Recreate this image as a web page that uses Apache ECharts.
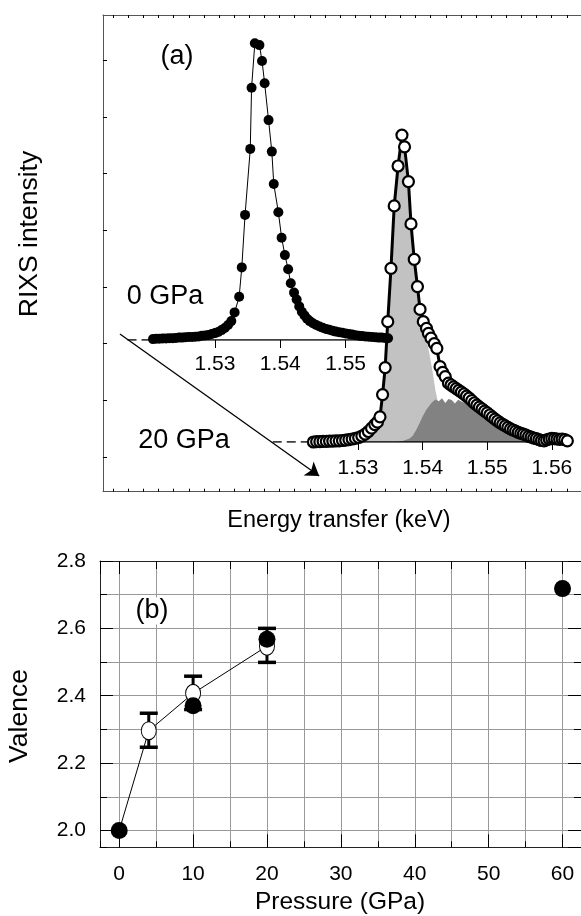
<!DOCTYPE html>
<html>
<head>
<meta charset="utf-8">
<script src="https://cdn.jsdelivr.net/npm/echarts@6/dist/echarts.min.js"></script>
<style>
html, body { margin: 0; padding: 0; background: #fff; }
#chart { width: 581px; height: 916px; }
</style>
</head>
<body>
<div id="chart"></div>
<script>
// ---- panel (a): RIXS spectra ----
// 0 GPa (filled dots)
var e0 = [1.5205,1.5210,1.5215,1.5220,1.5225,1.5230,1.5235,1.5240,1.5245,1.5250,1.5255,1.5260,1.5265,1.5270,1.5275,
  1.5280,1.5285,1.5290,1.5295,1.5300,1.5305,1.5310,1.5315,1.5320,1.5325,1.5330,1.5337,1.5341,1.5346,1.5354,1.5356,
  1.5361,1.5368,1.5372,1.5376,1.5382,1.5387,1.5390,1.5397,1.5402,1.5407,1.5412,1.5416,1.5421,1.5425,1.5429,1.5433,
  1.5437,1.5441,1.5445,1.5450,1.5455,1.5460,1.5465,1.5470,1.5475,1.5480,1.5485,1.5490,1.5495,1.5500,1.5505,1.5510,
  1.5515,1.5520,1.5525,1.5530,1.5535,1.5540,1.5545,1.5550,1.5555,1.5560,1.5565];
var i0 = [0.003,0.004,0.004,0.005,0.005,0.006,0.006,0.007,0.008,0.008,0.009,0.010,0.010,0.011,0.012,
  0.014,0.015,0.017,0.020,0.023,0.027,0.033,0.040,0.050,0.063,0.092,0.144,0.242,0.417,0.637,0.841,
  0.989,0.983,0.930,0.856,0.733,0.628,0.520,0.426,0.341,0.283,0.236,0.189,0.158,0.135,0.112,0.094,
  0.082,0.071,0.063,0.056,0.050,0.045,0.041,0.037,0.034,0.031,0.028,0.026,0.024,0.022,0.020,0.018,
  0.016,0.014,0.013,0.012,0.011,0.010,0.009,0.008,0.008,0.007,0.006];

// 20 GPa (open circles)
var e20 = [1.5231,1.5236,1.5241,1.5246,1.5251,1.5256,1.5261,1.5266,1.5271,1.5276,1.5281,1.5286,1.5291,1.5296,
  1.5301,1.5306,1.5311,1.5316,1.5321,1.5326,1.5330,1.5334,1.5338,1.5342,1.5346,1.5351,1.5356,1.5362,1.5368,
  1.5372,1.5378,1.5382,1.5387,1.5392,1.5396,1.5401,1.5406,1.5409,1.5413,1.5418,1.5422,1.5427,1.5431,1.5435,
  1.5440,1.5444,1.5448,1.5452,1.5456,1.5460,1.5464,1.5468,1.5472,1.5476,1.5480,1.5484,1.5488,1.5492,1.5496,
  1.5500,1.5504,1.5508,1.5512,1.5516,1.5520,1.5524,1.5528,1.5532,1.5536,1.5540,1.5544,1.5548,1.5552,1.5556,
  1.5560,1.5564,1.5568,1.5572,1.5576,1.5580,1.5584,1.5588,1.5592,1.5596,1.5600,1.5604,1.5608,1.5612,1.5616,
  1.5620,1.5624];
var i20 = [0.000,0.001,0.001,0.002,0.002,0.003,0.003,0.004,0.004,0.005,0.006,0.008,0.010,0.012,
  0.015,0.020,0.026,0.035,0.046,0.058,0.066,0.084,0.158,0.248,0.401,0.579,0.787,0.920,1.023,
  0.984,0.868,0.727,0.609,0.518,0.442,0.401,0.379,0.362,0.346,0.328,0.312,0.251,0.232,0.218,
  0.196,0.190,0.184,0.178,0.172,0.166,0.160,0.153,0.146,0.138,0.130,0.123,0.116,0.110,0.103,
  0.097,0.090,0.083,0.076,0.070,0.064,0.059,0.054,0.049,0.044,0.040,0.036,0.032,0.029,0.026,
  0.023,0.019,0.016,0.013,0.011,0.008,0.005,0.004,0.007,0.010,0.012,0.011,0.010,0.009,0.010,
  0.008,0.004];

// fitted components at 20 GPa
var eEu2 = [1.5300,1.5305,1.5310,1.5315,1.5320,1.5325,1.5330,1.5335,1.5340,1.5345,1.5350,1.5355,1.5360,1.5365,
  1.5370,1.5375,1.5380,1.5385,1.5390,1.5395,1.5400,1.5405,1.5410,1.5415,1.5420,1.5425,1.5430,1.5440,1.5450,
  1.5460,1.5480,1.5500,1.5530];
var iEu2 = [0.000,0.012,0.020,0.030,0.042,0.056,0.075,0.105,0.190,0.350,0.540,0.750,0.880,0.990,
  0.975,0.890,0.760,0.650,0.545,0.455,0.390,0.355,0.300,0.240,0.170,0.120,0.090,0.060,0.040,
  0.030,0.018,0.010,0.000];
var eEu3 = [1.5360,1.5370,1.5380,1.5385,1.5390,1.5395,1.5400,1.5405,1.5410,1.5415,1.5420,1.5425,1.5430,1.5435,
  1.5440,1.5445,1.5450,1.5455,1.5460,1.5465,1.5470,1.5480,1.5490,1.5500,1.5510,1.5520,1.5530,1.5540,1.5550,
  1.5560,1.5570,1.5580];
var iEu3 = [0.000,0.004,0.012,0.022,0.040,0.062,0.085,0.105,0.120,0.133,0.142,0.136,0.146,0.130,
  0.143,0.140,0.128,0.141,0.135,0.131,0.128,0.115,0.100,0.086,0.072,0.058,0.046,0.034,0.022,
  0.012,0.005,0.000];

// baselines: dashed leader start, axis start, axis end (keV)
var base0 = [1.5166, 1.5200, 1.5568];
var base20 = [1.5168, 1.5231, 1.5625];

var e0Ticks = [1.53, 1.54, 1.55];
var e20Ticks = [1.53, 1.54, 1.55, 1.56];
var frameTicksX = [0,1,2,3,4,5,6,7,8,9,10,11,12,13,14,15,16,17,18,19,20,21,22,23,24,25,26,27,28,29,30];
var frameTicksY = [0,1,2,3,4,5,6,7];
// pressure arrow in frame units
var arrowFrom = [0.44, 2.169];
var arrowTo = [13.62, -0.335];

// ---- panel (b): valence vs pressure ----
var xasP = [0, 10, 20, 60];
var xasV = [2.0, 2.37, 2.568, 2.718];
var rixsP = [4, 10, 20];
var rixsV = [2.296, 2.407, 2.547];
var rixsLo = [2.247, 2.359, 2.499];
var rixsHi = [2.348, 2.458, 2.600];

var FONT = "'Liberation Sans', Arial, sans-serif";

function pairs(xs, ys) {
  return xs.map(function (x, k) { return [x, ys[k]]; });
}

var chart = echarts.init(document.getElementById('chart'));

var hidden = { show: false };
var noLine = { show: false, onZero: false };
var frameLine = { show: true, onZero: false, lineStyle: { color: '#555', width: 1 } };
var bLine = { show: true, onZero: false, lineStyle: { color: '#222', width: 1 } };
var gridLine = { show: true, lineStyle: { color: '#999', width: 1 } };

function tick(len, vals) {
  var t = { show: true, inside: true, length: len, lineStyle: { color: '#000', width: 1 } };
  if (vals) t.customValues = vals;
  return t;
}

var option = {
  animation: false,
  backgroundColor: '#fff',
  textStyle: { fontFamily: FONT },
  grid: [
    { left: 103, top: 15, width: 480, height: 476.7 },
    { left: 123.6, top: 10, width: 266.4, height: 330 },
    { left: 270.8, top: 112, width: 297.2, height: 330 },
    { left: 100, top: 561, width: 482.4, height: 286.3 }
  ],
  xAxis: [
    { gridIndex: 0, type: 'value', position: 'top', min: -0.68, max: 30.94,
      axisLine: frameLine, axisTick: tick(3, frameTicksX), axisLabel: hidden, splitLine: hidden },
    { gridIndex: 0, type: 'value', position: 'bottom', min: -0.68, max: 30.94,
      axisLine: frameLine, axisTick: tick(3, frameTicksX), axisLabel: hidden, splitLine: hidden },
    { gridIndex: 1, type: 'value', position: 'bottom', min: 1.5160, max: 1.5568,
      axisLine: noLine,
      axisTick: { show: true, inside: false, length: 8, customValues: e0Ticks, lineStyle: { color: '#000' } },
      axisLabel: { show: true, customValues: e0Ticks, fontSize: 21, color: '#000', margin: 14,
        fontFamily: FONT, formatter: function (v) { return v.toFixed(2); } },
      splitLine: hidden },
    { gridIndex: 2, type: 'value', position: 'bottom', min: 1.5165, max: 1.5625,
      axisLine: noLine,
      axisTick: { show: true, inside: false, length: 8, customValues: e20Ticks, lineStyle: { color: '#000' } },
      axisLabel: { show: true, customValues: e20Ticks, fontSize: 21, color: '#000', margin: 16,
        fontFamily: FONT, formatter: function (v) { return v.toFixed(2); } },
      splitLine: hidden },
    // panel b
    { gridIndex: 3, type: 'value', position: 'bottom', min: -2.6, max: 62.5, splitNumber: 6,
      axisLine: bLine, axisTick: tick(13), splitLine: hidden,
      axisLabel: { show: true, fontSize: 21, color: '#000', margin: 16, fontFamily: FONT,
        showMinLabel: false, showMaxLabel: false } },
    { gridIndex: 3, type: 'value', position: 'bottom', min: -2.6, max: 62.5, splitNumber: 13,
      axisLine: noLine, axisTick: tick(6), axisLabel: hidden, splitLine: gridLine },
    { gridIndex: 3, type: 'value', position: 'top', min: -2.6, max: 62.5, splitNumber: 6,
      axisLine: bLine, axisTick: tick(13), axisLabel: hidden, splitLine: hidden },
    { gridIndex: 3, type: 'value', position: 'top', min: -2.6, max: 62.5, splitNumber: 13,
      axisLine: noLine, axisTick: tick(8), axisLabel: hidden, splitLine: hidden }
  ],
  yAxis: [
    { gridIndex: 0, type: 'value', position: 'left', min: -0.612, max: 7.795,
      axisLine: frameLine, axisTick: tick(4, frameTicksY), axisLabel: hidden, splitLine: hidden },
    { gridIndex: 1, type: 'value', min: 0, max: 1.1, show: false, axisLine: noLine },
    { gridIndex: 2, type: 'value', min: 0, max: 1.1, show: false, axisLine: noLine },
    // panel b
    { gridIndex: 3, type: 'value', position: 'left', min: 1.95, max: 2.8, splitNumber: 4,
      axisLine: bLine, axisTick: tick(13), splitLine: hidden,
      axisLabel: { show: true, fontSize: 21, color: '#000', margin: 14, fontFamily: FONT,
        showMinLabel: false, formatter: function (v) { return v.toFixed(1); } } },
    { gridIndex: 3, type: 'value', position: 'left', min: 1.95, max: 2.8, splitNumber: 8,
      axisLine: noLine, axisTick: tick(7), axisLabel: hidden, splitLine: gridLine },
    { gridIndex: 3, type: 'value', position: 'right', min: 1.95, max: 2.8, splitNumber: 4,
      axisLine: bLine, axisTick: tick(13), axisLabel: hidden, splitLine: hidden },
    { gridIndex: 3, type: 'value', position: 'right', min: 1.95, max: 2.8, splitNumber: 8,
      axisLine: noLine, axisTick: tick(7), axisLabel: hidden, splitLine: hidden }
  ],
  series: [
    // arrow across the frame
    { type: 'line', xAxisIndex: 0, yAxisIndex: 0, data: [], silent: true,
      markLine: { silent: true, symbol: ['none', 'arrow'], symbolSize: 13, label: { show: false },
        lineStyle: { color: '#000', width: 1.3, type: 'solid' },
        data: [[{ coord: arrowFrom }, { coord: arrowTo }]] } },
    // 0 GPa baseline
    { type: 'line', xAxisIndex: 2, yAxisIndex: 1, symbol: 'none', silent: true,
      data: [[base0[0], 0], [base0[1], 0]], lineStyle: { color: '#000', width: 1.3, type: [9, 5] } },
    { type: 'line', xAxisIndex: 2, yAxisIndex: 1, symbol: 'none', silent: true,
      data: [[base0[1], 0], [base0[2], 0]], lineStyle: { color: '#000', width: 1.5 } },
    // 0 GPa spectrum
    { name: '0 GPa', type: 'line', xAxisIndex: 2, yAxisIndex: 1, data: pairs(e0, i0),
      symbol: 'circle', symbolSize: 10, showAllSymbol: true,
      itemStyle: { color: '#000' }, lineStyle: { color: '#000', width: 1 } },
    // 20 GPa components
    { name: 'Eu2+', type: 'line', xAxisIndex: 3, yAxisIndex: 2, data: pairs(eEu2, iEu2), symbol: 'none',
      lineStyle: { width: 0 }, areaStyle: { color: '#c2c2c2', opacity: 1 }, z: 3 },
    { name: 'Eu3+', type: 'line', xAxisIndex: 3, yAxisIndex: 2, data: pairs(eEu3, iEu3), symbol: 'none',
      lineStyle: { width: 0 }, areaStyle: { color: '#828282', opacity: 1 }, z: 3 },
    // 20 GPa baseline
    { type: 'line', xAxisIndex: 3, yAxisIndex: 2, symbol: 'none', silent: true, z: 3,
      data: [[base20[0], 0], [base20[1], 0]], lineStyle: { color: '#000', width: 1.3, type: [9, 5] } },
    { type: 'line', xAxisIndex: 3, yAxisIndex: 2, symbol: 'none', silent: true, z: 3,
      data: [[base20[1], 0], [base20[2], 0]], lineStyle: { color: '#000', width: 1.5 } },
    // 20 GPa spectrum
    { name: '20 GPa', type: 'line', xAxisIndex: 3, yAxisIndex: 2, data: pairs(e20, i20), z: 4,
      symbol: 'circle', symbolSize: 11, showAllSymbol: true,
      itemStyle: { color: '#fff', borderColor: '#000', borderWidth: 2.2 },
      lineStyle: { color: '#000', width: 3 } },

    // panel b: connecting line
    { type: 'line', xAxisIndex: 4, yAxisIndex: 3, symbol: 'none', z: 3,
      data: [[xasP[0], xasV[0]]].concat(pairs(rixsP, rixsV)),
      lineStyle: { color: '#000', width: 1 } },
    // error bars
    { type: 'custom', xAxisIndex: 4, yAxisIndex: 3, z: 4,
      data: rixsP.map(function (p, k) { return [p, rixsLo[k], rixsHi[k]]; }),
      encode: { x: 0, y: [1, 2] },
      renderItem: function (params, api) {
        var lo = api.coord([api.value(0), api.value(1)]);
        var hi = api.coord([api.value(0), api.value(2)]);
        var hw = 9;
        var st = { stroke: '#000', lineWidth: 3.5 };
        return { type: 'group', children: [
          { type: 'line', shape: { x1: lo[0], y1: lo[1], x2: hi[0], y2: hi[1] }, style: { stroke: '#000', lineWidth: 3 } },
          { type: 'line', shape: { x1: lo[0] - hw, y1: lo[1], x2: lo[0] + hw, y2: lo[1] }, style: st },
          { type: 'line', shape: { x1: hi[0] - hw, y1: hi[1], x2: hi[0] + hw, y2: hi[1] }, style: st }
        ] };
      } },
    // RIXS valence (open)
    { type: 'scatter', xAxisIndex: 4, yAxisIndex: 3, z: 5, data: pairs(rixsP, rixsV),
      symbol: 'circle', symbolSize: [15, 18],
      itemStyle: { color: '#fff', borderColor: '#000', borderWidth: 1, opacity: 1 } },
    // XAS valence (filled)
    { type: 'scatter', xAxisIndex: 4, yAxisIndex: 3, z: 6, data: pairs(xasP, xasV),
      symbol: 'circle', symbolSize: 17, itemStyle: { color: '#000', opacity: 1 } }
  ],
  graphic: [
    { type: 'text', x: 177, y: 57, z: 100, style: { text: '(a)', fontSize: 27, fontFamily: FONT, fill: '#000', align: 'center', verticalAlign: 'middle' } },
    { type: 'text', x: 165, y: 297, z: 100, style: { text: '0 GPa', fontSize: 27, fontFamily: FONT, fill: '#000', align: 'center', verticalAlign: 'middle' } },
    { type: 'text', x: 184, y: 441, z: 100, style: { text: '20 GPa', fontSize: 27, fontFamily: FONT, fill: '#000', align: 'center', verticalAlign: 'middle' } },
    { type: 'text', x: 30, y: 234, z: 100, rotation: Math.PI / 2, style: { text: 'RIXS intensity', fontSize: 26.5, fontFamily: FONT, fill: '#000', align: 'center', verticalAlign: 'middle' } },
    { type: 'text', x: 339, y: 521, z: 100, style: { text: 'Energy transfer (keV)', fontSize: 23.5, fontFamily: FONT, fill: '#000', align: 'center', verticalAlign: 'middle' } },
    { type: 'text', x: 152, y: 611, z: 100, style: { text: '(b)', fontSize: 27, fontFamily: FONT, fill: '#000', align: 'center', verticalAlign: 'middle', backgroundColor: '#fff', padding: [0, 13] } },
    { type: 'text', x: 20, y: 716, z: 100, rotation: Math.PI / 2, style: { text: 'Valence', fontSize: 26.5, fontFamily: FONT, fill: '#000', align: 'center', verticalAlign: 'middle' } },
    { type: 'text', x: 340, y: 902, z: 100, style: { text: 'Pressure (GPa)', fontSize: 24.5, fontFamily: FONT, fill: '#000', align: 'center', verticalAlign: 'middle' } }
  ]
};

chart.setOption(option);
</script>
</body>
</html>
